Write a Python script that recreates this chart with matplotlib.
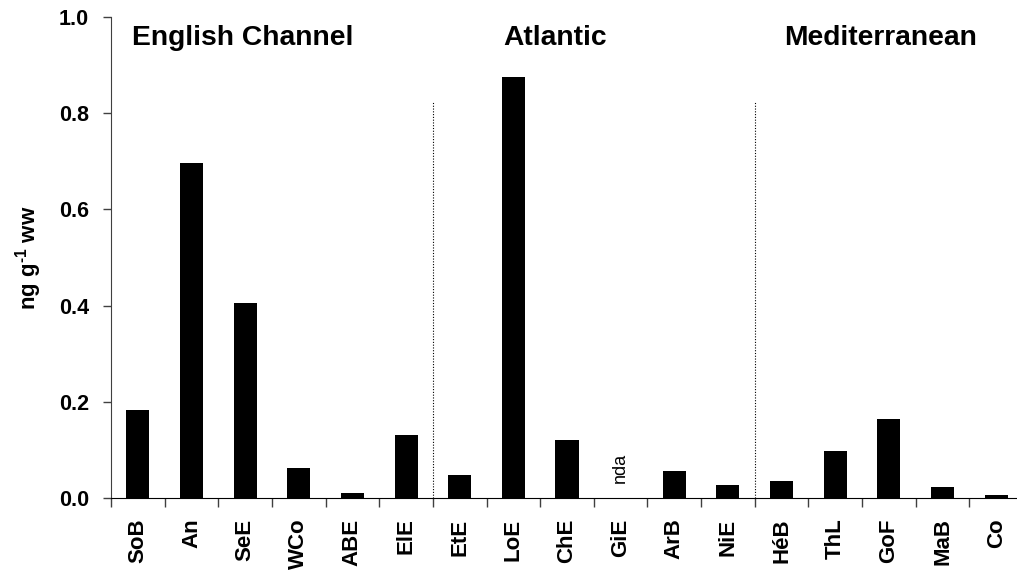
import numpy as np
import matplotlib.pyplot as plt

plt.rcParams['font.family'] = ['Liberation Sans', 'DejaVu Sans']
plt.rcParams['mathtext.fontset'] = 'custom'
plt.rcParams['mathtext.rm'] = 'Liberation Sans'
plt.rcParams['mathtext.bf'] = 'Liberation Sans:bold'

sites = ['SoB', 'An', 'SeE', 'WCo', 'ABE', 'ElE',
         'EtE', 'LoE', 'ChE', 'GiE', 'ArB', 'NiE',
         'HéB', 'ThL', 'GoF', 'MaB', 'Co']
values = [0.183, 0.696, 0.406, 0.062, 0.011, 0.131,
          0.048, 0.875, 0.120, 0.0, 0.057, 0.028,
          0.036, 0.099, 0.165, 0.024, 0.006]
groups = ['English Channel', 'Atlantic', 'Mediterranean']
group_sizes = [6, 6, 5]
no_data = ['GiE']

fig = plt.figure(figsize=(10.17, 5.85), dpi=100)
ax = fig.add_axes([111 / 1017, 1 - 498.3 / 585, 912 / 1017, 481.7 / 585])

x = np.arange(len(sites))
ax.bar(x, values, width=0.43, color='black')

ax.set_xlim(-0.5, len(sites) - 0.5)
ax.set_ylim(0, 1.0)
ax.set_yticks(np.arange(0, 1.01, 0.2))
ax.set_yticklabels([f"{v:.1f}" for v in np.arange(0, 1.01, 0.2)],
                   fontsize=15.5, fontweight='bold')
ax.set_xticks(x)
ax.set_xticklabels(sites, rotation=90, fontsize=16, fontweight='bold')
ax.set_xticks(np.arange(-0.5, len(sites), 1), minor=True)
ax.tick_params(axis='x', which='major', length=0, pad=14.5)
ax.tick_params(axis='x', which='minor', length=6.5, width=1, color='#404040')
ax.tick_params(axis='y', length=6, width=1, color='#404040', pad=10)

for s in ['top', 'right']:
    ax.spines[s].set_visible(False)
ax.spines['left'].set_color('#404040')
ax.spines['bottom'].set_color('black')

ax.set_ylabel('ng g$^{\\mathbf{\u20101}}$ ww', fontsize=16, fontweight='bold')
ax.yaxis.set_label_coords(-0.073, 0.5)

# separators between regions; titles placed by hand like the original
label_x = [1.96, 7.78, 13.85]
start = 0
for name, n, lx in zip(groups, group_sizes, label_x):
    if start > 0:
        ax.vlines(start - 0.5, 0, 0.823, colors='black', linestyles=(0, (1, 1.5)), linewidth=0.8)
    ax.text(lx, 0.955, name, ha='center', va='center', fontsize=20.3, fontweight='bold')
    start += n

for name in no_data:
    i = sites.index(name)
    ax.text(i, 0.031, 'nda', rotation=90, ha='center', va='bottom', fontsize=13)

fig.savefig('out.png', dpi=100)
